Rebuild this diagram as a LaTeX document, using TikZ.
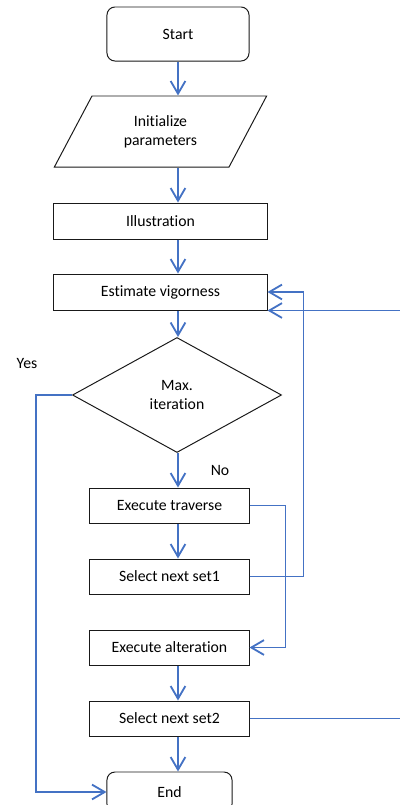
\documentclass[tikz,border=0pt]{standalone}
\usepackage{fontspec}
\setmainfont[Ligatures={NoCommon,NoContextual},Contextuals=NoAlternate]{Carlito}
\usepackage{xcolor}
\usetikzlibrary{arrows.meta,shapes.geometric}
\definecolor{flowblue}{RGB}{68,114,196}

\begin{document}
\begin{tikzpicture}[x=0.025cm,y=-0.025cm,font=\fontsize{11.2}{13.5}\selectfont,>={Straight Barb[length=9pt,width=10.5pt]},
    blk/.style={draw=black!90, line width=0.7pt, align=center, inner sep=1pt},
    term/.style={blk, rounded corners=0.2cm},
    flow/.style={draw=flowblue, line width=1.3pt},
    lbl/.style={align=center}]
  \useasboundingbox (0,0) rectangle (400,805);
  % ---------- main column ----------
  \coordinate (axis) at (178,0);
  \node[term, minimum width=3.55cm, minimum height=1.35cm] (start) at (178,34) {Start};
  \node[blk, trapezium, trapezium left angle=59.4, trapezium right angle=120.6, trapezium stretches=true,
        minimum width=5.325cm, minimum height=1.775cm] (init) at (160.5,131.5) {Initialize\\parameters};
  \node[blk, minimum width=5.325cm, minimum height=0.9cm] (ill) at (160.5,221) {Illustration};
  \node[blk, minimum width=5.325cm, minimum height=0.9cm] (est) at (160.5,292) {Estimate vigorness};
  \node[blk, diamond, inner sep=0pt, minimum width=5.225cm, minimum height=2.875cm] (dec) at (177,395) {Max.\\iteration};
  \node[blk, minimum width=3.975cm, minimum height=0.875cm] (trav) at (169.5,505.5) {Execute traverse};
  \node[blk, minimum width=3.975cm, minimum height=0.875cm] (set1) at (169.5,576.5) {Select next set1};
  \node[blk, minimum width=3.975cm, minimum height=0.875cm] (alt)  at (169.5,647.5) {Execute alteration};
  \node[blk, minimum width=3.975cm, minimum height=0.875cm] (set2) at (169.5,718.5) {Select next set2};
  \node[term, minimum width=3.125cm, minimum height=1cm] (stop) at (169.5,792) {End};
  % ---------- labels ----------
  \node[lbl] (yes) at (27,363) {Yes};
  \node[lbl] (no)  at (220,470) {No};
  % ---------- signals ----------
  \draw[flow,->] (start.south) -- (start.south |- init.north);
  \draw[flow,->] (init.south -| axis) -- (ill.north -| axis);
  \draw[flow,->] (ill.south -| axis) -- (est.north -| axis);
  \draw[flow,->] (est.south -| axis) -- (dec.north -| axis);
  \draw[flow,->] (dec.south -| axis) -- (trav.north -| axis);
  \draw[flow,->] (trav.south -| axis) -- (set1.north -| axis);
  \draw[flow,->] (alt.south -| axis) -- (set2.north -| axis);
  \draw[flow,->] (set2.south -| axis) -- (stop.north -| axis);
  \draw[flow,->] (dec.west) -- ++(-36,0) |- (stop.west);
  \draw[flow,->] (trav.east) -- ++(36,0) |- (alt.east);
  \draw[flow,->] (set1.east) -- ++(54,0) |- (est.east);
  \draw[flow,->] (set2.east) -- ++(153,0) |- (est.south east);
\end{tikzpicture}
\end{document}
